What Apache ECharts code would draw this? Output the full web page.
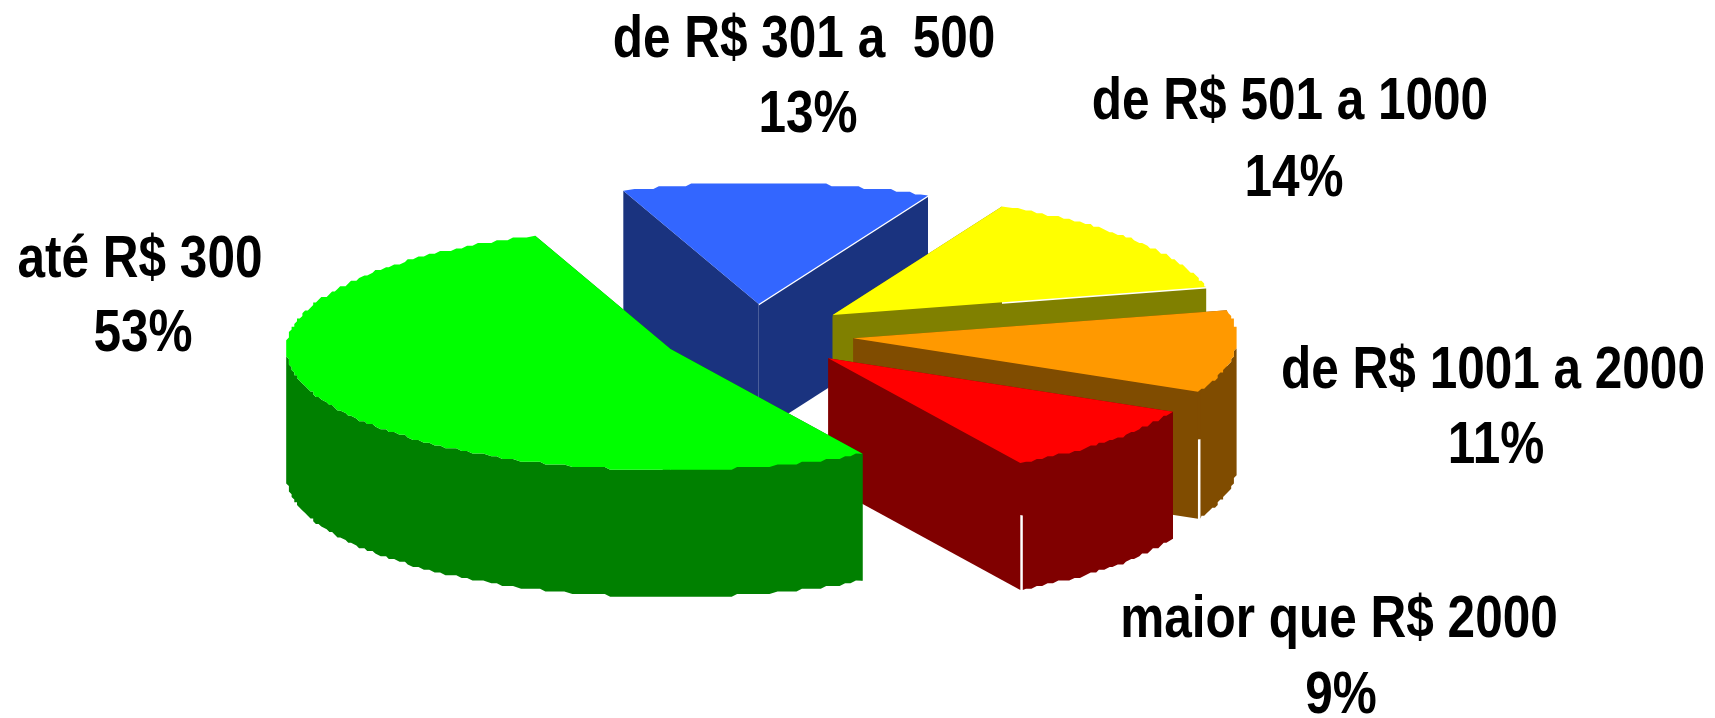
<!DOCTYPE html>
<html>
<head>
<meta charset="utf-8">
<title>Renda</title>
<script src="https://cdn.jsdelivr.net/npm/echarts@6/dist/echarts.min.js"></script>
<style>
  html, body { margin: 0; padding: 0; background: #fff; }
  #chart { width: 1715px; height: 718px; }
</style>
</head>
<body>
<div id="chart"></div>
<script>
const categories = ["até R$ 300", "de R$ 301 a  500", "de R$ 501 a 1000", "de R$ 1001 a 2000", "maior que R$ 2000"];
// shares; the labels show them rounded
const shares = [52.6, 13, 14, 11, 9.4];

// layout only, same order as categories
const topColors = ["#00ff00", "#3366ff", "#ffff00", "#ff9900", "#ff0000"];
const wallColors = ["#008000", "#1a337f", "#808000", "#804c00", "#800000"];
const apexX = [670.5, 758.7, 832.7, 853.3, 828.3];
const apexY = [349, 304, 315, 338.3, 358.3];
const edgeGap = [0, 1.5, 1.5, 0, 0];   // hairline between top face and end wall
const cornerGap = [0, 0, 0, 2.5, 2.5]; // hairline between end wall and rim wall
const labelX = [140, 804, 1290, 1493, 1339];
const labelY = [260, 40, 102, 371, 620];
const valueX = [143, 808, 1294, 1496, 1341];
const valueY = [334, 115, 179, 446, 696];
const drawOrder = [1, 2, 3, 4, 0];     // back to front

const RX = 384;
const RY = 121;
const DEPTH = 127;
const START_ANGLE = 60;
const GRID = 2.7;

const total = shares.reduce((a, b) => a + b, 0);
const startAngles = [];
let acc = START_ANGLE;
shares.forEach((p) => {
  startAngles.push(acc);
  acc += (p / total) * 360;
});

const snap = (v) => Math.round(v / GRID) * GRID;
const rimPoint = (cx, cy, deg) => {
  const r = (deg * Math.PI) / 180;
  return [cx + RX * Math.cos(r), cy + RY * Math.sin(r)];
};
const arcPoints = (cx, cy, from, to) => {
  const pts = [];
  for (let a = Math.ceil(from) + 1; a < to - 0.5; a++) {
    const p = rimPoint(cx, cy, a);
    pts.push([snap(p[0]), snap(p[1])]);
  }
  return pts;
};
const poly = (points, color) => ({
  type: "polygon",
  shape: { points: points },
  style: { fill: color }
});
const wall = (a, b, color) => poly([a, b, [b[0], b[1] + DEPTH], [a[0], a[1] + DEPTH]], color);

const renderSlice = (params, api) => {
  const i = api.value(0);
  const from = startAngles[i];
  const to = from + (shares[i] / total) * 360;
  const cx = apexX[i];
  const cy = apexY[i];
  const apex = [cx, cy];
  const p0 = rimPoint(cx, cy, from);
  const p1 = rimPoint(cx, cy, to);
  const arc = arcPoints(cx, cy, from, to);
  const children = [];

  const g = edgeGap[i];
  children.push(wall(apex, p0, wallColors[i]));
  children.push(wall([cx, cy + g], [p1[0], p1[1] + g], wallColors[i]));

  // rim wall: only the part of the arc that faces the viewer
  const full = [p0].concat(arc, [p1]);
  const rim = full
    .filter((p) => p[1] >= cy - 1)
    .map((p) => (p === p1 ? [p[0] + cornerGap[i], p[1]] : p));
  if (rim.length > 1) {
    const bottom = rim.map((p) => [p[0], p[1] + DEPTH]).reverse();
    children.push(poly(rim.concat(bottom), wallColors[i]));
  }

  children.push(poly([apex].concat(full), topColors[i]));
  return { type: "group", children: children };
};

const labelStyle = (text, x, y) => ({
  type: "text",
  x: x,
  y: y,
  scaleX: 0.825,
  silent: true,
  style: {
    text: text,
    fill: "#000",
    font: 'bold 60px "Liberation Sans", sans-serif',
    textAlign: "center",
    textVerticalAlign: "middle"
  }
});

const labelElements = [];
categories.forEach((name, i) => {
  labelElements.push(labelStyle(name, labelX[i], labelY[i]));
  labelElements.push(labelStyle(Math.round(shares[i]) + "%", valueX[i], valueY[i]));
});

const chartInstance = echarts.init(document.getElementById("chart"), null, { renderer: "canvas" });
chartInstance.setOption({
  backgroundColor: "#ffffff",
  animation: false,
  graphic: labelElements,
  series: [
    {
      type: "custom",
      coordinateSystem: "none",
      silent: true,
      renderItem: renderSlice,
      encode: { value: 0 },
      data: drawOrder.map((i) => [i])
    }
  ]
});
</script>
</body>
</html>
